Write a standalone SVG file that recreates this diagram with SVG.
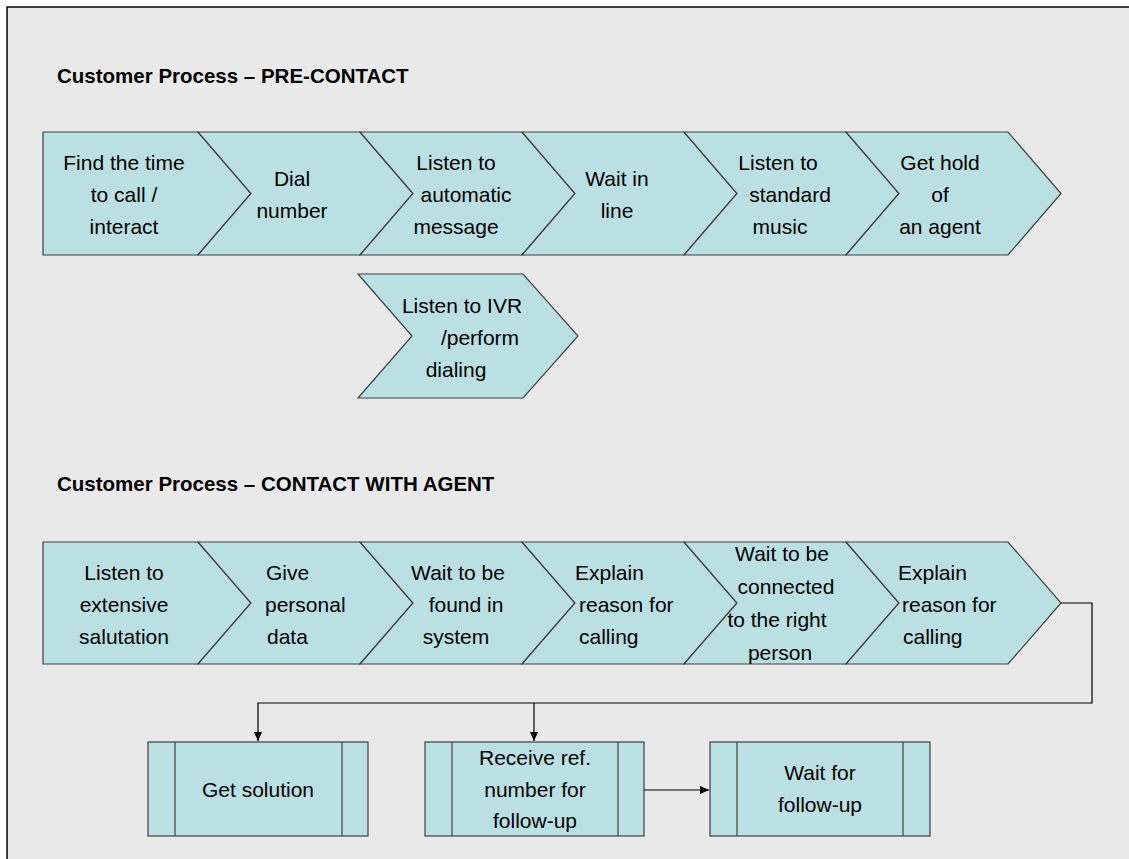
<svg xmlns="http://www.w3.org/2000/svg" width="1129" height="859" viewBox="0 0 1129 859">
<defs>
<style>
.shape{fill:#BAE0E3;stroke:#404040;stroke-width:1.2}
.t{font-family:"Liberation Sans",Arial,sans-serif;font-size:21px;fill:#000;text-anchor:middle}
.ts{font-family:"Liberation Sans",Arial,sans-serif;font-size:21px;fill:#000}
.title{font-family:"Liberation Sans",Arial,sans-serif;font-size:20.5px;font-weight:bold;fill:#000}
.conn{fill:none;stroke:#000;stroke-width:1.2}
</style>
<marker id="arr" markerWidth="10" markerHeight="10" refX="9" refY="5" orient="auto" markerUnits="userSpaceOnUse">
<path d="M0,1 L9,5 L0,9 Z" fill="#000"/>
</marker>
</defs>
<rect x="0" y="0" width="1129" height="859" fill="#FFFFFF"/>
<rect x="7" y="7" width="1130" height="860" fill="#E9E9E9" stroke="#000" stroke-width="1.5"/>

<text class="title" x="57" y="83">Customer Process – PRE-CONTACT</text>
<text class="title" x="57" y="491">Customer Process – CONTACT WITH AGENT</text>

<g id="n1">
<path class="shape" d="M43,132 L198,132 L251,193.5 L198,255 L43,255 Z"/>
<text class="t" x="124" y="170">Find the time</text>
<text class="t" x="124" y="202">to call /</text>
<text class="t" x="124" y="234">interact</text>
</g>
<g id="n2">
<path class="shape" d="M198,132 L360,132 L413,193.5 L360,255 L198,255 L251,193.5 Z"/>
<text class="t" x="292" y="186">Dial</text>
<text class="t" x="292" y="218">number</text>
</g>
<g id="n3">
<path class="shape" d="M360,132 L522,132 L575,193.5 L522,255 L360,255 L413,193.5 Z"/>
<text class="t" x="456" y="170">Listen to</text>
<text class="t" x="466" y="202">automatic</text>
<text class="t" x="456" y="234">message</text>
</g>
<g id="n4">
<path class="shape" d="M522,132 L684,132 L737,193.5 L684,255 L522,255 L575,193.5 Z"/>
<text class="t" x="617" y="186">Wait in</text>
<text class="t" x="617" y="218">line</text>
</g>
<g id="n5">
<path class="shape" d="M684,132 L846,132 L899,193.5 L846,255 L684,255 L737,193.5 Z"/>
<text class="t" x="778" y="170">Listen to</text>
<text class="t" x="790" y="202">standard</text>
<text class="t" x="780" y="234">music</text>
</g>
<g id="n6">
<path class="shape" d="M846,132 L1008,132 L1061,193.5 L1008,255 L846,255 L899,193.5 Z"/>
<text class="t" x="940" y="170">Get hold</text>
<text class="t" x="940" y="202">of</text>
<text class="t" x="940" y="234">an agent</text>
</g>
<g id="n7">
<path class="shape" d="M358,274 L523,274 L578,336 L523,398 L358,398 L412,336 Z"/>
<text class="t" x="462" y="313">Listen to IVR</text>
<text class="t" x="480" y="345">/perform</text>
<text class="t" x="456" y="377">dialing</text>
</g>

<g id="m1">
<path class="shape" d="M43,542 L198,542 L251,603 L198,664 L43,664 Z"/>
<text class="t" x="124" y="580">Listen to</text>
<text class="t" x="124" y="612">extensive</text>
<text class="t" x="124" y="644">salutation</text>
</g>
<g id="m2">
<path class="shape" d="M198,542 L360,542 L413,603 L360,664 L198,664 L251,603 Z"/>
<text class="ts" x="266" y="580">Give</text>
<text class="ts" x="265" y="612">personal</text>
<text class="ts" x="267" y="644">data</text>
</g>
<g id="m3">
<path class="shape" d="M360,542 L522,542 L575,603 L522,664 L360,664 L413,603 Z"/>
<text class="t" x="458" y="580">Wait to be</text>
<text class="t" x="466" y="612">found in</text>
<text class="t" x="456" y="644">system</text>
</g>
<g id="m4">
<path class="shape" d="M522,542 L684,542 L737,603 L684,664 L522,664 L575,603 Z"/>
<text class="ts" x="575" y="580">Explain</text>
<text class="ts" x="579" y="612">reason for</text>
<text class="ts" x="579" y="644">calling</text>
</g>
<g id="m5">
<path class="shape" d="M684,542 L846,542 L899,603 L846,664 L684,664 L737,603 Z"/>
<text class="t" x="782" y="561">Wait to be</text>
<text class="t" x="786" y="594">connected</text>
<text class="t" x="777" y="627">to the right</text>
<text class="t" x="780" y="660">person</text>
</g>
<g id="m6">
<path class="shape" d="M846,542 L1008,542 L1061,603 L1008,664 L846,664 L899,603 Z"/>
<text class="ts" x="898" y="580">Explain</text>
<text class="ts" x="902" y="612">reason for</text>
<text class="ts" x="903" y="644">calling</text>
</g>

<g id="b1">
<rect class="shape" x="148" y="742" width="220" height="94"/>
<line class="shape" x1="175" y1="742" x2="175" y2="836"/>
<line class="shape" x1="342" y1="742" x2="342" y2="836"/>
<text class="t" x="258" y="797">Get solution</text>
</g>
<g id="b2">
<rect class="shape" x="425" y="742" width="219" height="94"/>
<line class="shape" x1="452" y1="742" x2="452" y2="836"/>
<line class="shape" x1="618" y1="742" x2="618" y2="836"/>
<text class="t" x="535" y="765">Receive ref.</text>
<text class="t" x="535" y="797">number for</text>
<text class="t" x="535" y="828">follow-up</text>
</g>
<g id="b3">
<rect class="shape" x="710" y="742" width="220" height="94"/>
<line class="shape" x1="737" y1="742" x2="737" y2="836"/>
<line class="shape" x1="903" y1="742" x2="903" y2="836"/>
<text class="t" x="820" y="780">Wait for</text>
<text class="t" x="820" y="812">follow-up</text>
</g>

<g id="connectors">
<path class="conn" d="M1061,603 L1092,603 L1092,703 L258,703 L258,741" marker-end="url(#arr)"/>
<path class="conn" d="M534,703 L534,741" marker-end="url(#arr)"/>
<path class="conn" d="M644,790 L709,790" marker-end="url(#arr)"/>
</g>
</svg>
